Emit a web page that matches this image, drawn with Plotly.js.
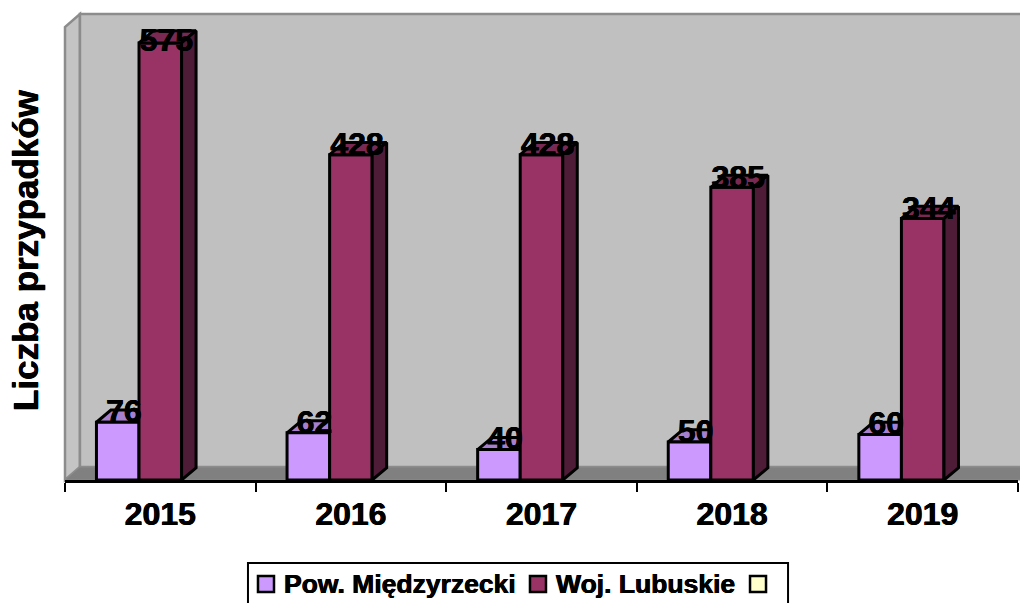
<!DOCTYPE html>
<html><head><meta charset="utf-8">
<script src="https://cdn.plot.ly/plotly-3.0.1.min.js"></script>
<style>html,body{margin:0;padding:0;background:#fff;overflow:hidden}</style>
</head><body><div id="chart" style="width:1020px;height:603px"></div>
<script>
const years = ['2015','2016','2017','2018','2019'];
const powValues = [76,62,40,50,60];
const wojValues = [575,428,428,385,344];
const seriesNames = ['Pow. Międzyrzecki','Woj. Lubuskie',''];
const seriesColors = ['#cc99ff','#993366','#ffffcc'];
const labelLift = [11,11,11,11,11];
const wojLabelLift = [0,10,10,10,10];
const yTitle = 'Liczba przypadków';

const FONT='"Liberation Sans", Arial, sans-serif';
const HEAVY='0.4px 0 0 #000, -0.4px 0 0 #000';
const positions = years.map((_,i)=>i+0.5);
const GAP=0.33, BW=(1-GAP)/3;
const DX=0.076, DY=16;
const YMAX=613;
const edge = (i,s)=>positions[i]-1.5*BW+s*BW;

function poly(xs,ys,fill,xa,ya){
  return {type:'scatter',mode:'lines',x:xs,y:ys,fill:'toself',fillcolor:fill,
    line:{color:'#000',width:3},showlegend:false,hoverinfo:'skip',xaxis:xa,yaxis:ya,cliponaxis:false};
}
const traces=[];
powValues.forEach((v,i)=>{
  const a=edge(i,0),b=edge(i,1);
  traces.push(poly([a,a+DX,b+DX,b,a],[v,v+DY,v+DY,v,v],'#a67fcf','x','y'));
});
[powValues,wojValues,years.map(()=>null)].forEach((vals,k)=>{
  traces.push({type:'bar',x:positions,y:vals,name:seriesNames[k],xaxis:'x2',yaxis:'y2',showlegend:false,
    marker:{color:seriesColors[k],line:{color:'#000',width:3}},hoverinfo:'skip'});
});
wojValues.forEach((v,i)=>{
  const a=edge(i,1),b=edge(i,2);
  traces.push(poly([a,a+DX,b+DX,b,a],[v,v+DY,v+DY,v,v],'#7a2952','x2','y2'));
  traces.push(poly([b,b+DX,b+DX,b,b],[v,v+DY,DY,0,v],'#4f1c38','x2','y2'));
});
const lab=(vals,lift,s)=>({type:'scatter',mode:'text',xaxis:'x2',yaxis:'y2',showlegend:false,hoverinfo:'skip',cliponaxis:false,
  x:vals.map((_,i)=>edge(i,s)+BW/2+0.032),y:vals.map((v,i)=>v+lift[i]),text:vals.map(String),textposition:'middle center',
  textfont:{family:FONT,size:32,color:'#000',weight:700,shadow:HEAVY}});
traces.push(lab(powValues,labelLift,0),lab(wojValues,wojLabelLift,1));

const W=1020,H=603,L=65,R=2,T=14,B=123;
const px=v=>((v-L)/(W-L-R)).toFixed(4), py=v=>((H-B-v)/(H-T-B)).toFixed(4);
const path=pts=>'M'+pts.map(p=>px(p[0])+' '+py(p[1])).join('L')+'Z';
function paperPoly(pts,fill,line,lw){return {type:'path',xref:'paper',yref:'paper',layer:'below',path:path(pts),fillcolor:fill,line:{color:line,width:lw}};}
const shapes=[
  paperPoly([[65,480],[65,27],[80,14],[80,467]],'#c4c4c4','#8c8c8c',2.5),
  paperPoly([[80,14],[1022,14],[1022,467],[80,467]],'#c0c0c0','#8c8c8c',2.5),
  paperPoly([[65,480],[80,467],[1022,467],[1022,480]],'#808080','#8c8c8c',1),
  {type:'path',xref:'paper',yref:'paper',layer:'above',path:'M'+px(248)+' '+py(612)+'L'+px(248)+' '+py(563)+'L'+px(788)+' '+py(563)+'L'+px(788)+' '+py(612),line:{color:'#000',width:2}}
];
const swatchX=[257,529,749], textX=[284,556];
seriesColors.forEach((c,k)=>{
  shapes.push({type:'rect',xref:'paper',yref:'paper',layer:'above',x0:px(swatchX[k]+1),x1:px(swatchX[k]+17),y0:py(592),y1:py(576),fillcolor:c,line:{color:'#000',width:2.5}});
});
const annotations=seriesNames.slice(0,2).map((n,k)=>({xref:'paper',yref:'paper',x:+px(textX[k]),y:+py(584),xanchor:'left',yanchor:'middle',showarrow:false,
  text:'<b>'+n+'</b>',font:{family:FONT,size:26.5,color:'#000',shadow:HEAVY},borderpad:0,borderwidth:0}));
annotations.push({xref:'paper',yref:'paper',x:+px(26),y:+py(250),xanchor:'center',yanchor:'middle',showarrow:false,textangle:-90,
  text:'<b>'+yTitle+'</b>',font:{family:FONT,size:35,color:'#000',shadow:HEAVY}});
const layout={
  width:W,height:H,margin:{l:L,r:R,t:T,b:B,pad:0},paper_bgcolor:'#fff',plot_bgcolor:'rgba(0,0,0,0)',showlegend:false,
  font:{family:FONT,color:'#000'},barmode:'group',bargap:GAP,bargroupgap:0,shapes,annotations,
  xaxis:{range:[0,5],tickmode:'array',tickvals:[0,1,2,3,4,5],ticktext:['','','','','',''],ticks:'outside',ticklen:9,tickwidth:2,tickcolor:'#000',
    showgrid:false,zeroline:false,showline:true,linecolor:'#000',linewidth:3,anchor:'y',fixedrange:true},
  yaxis:{range:[0,YMAX],showticklabels:false,ticks:'',showgrid:false,zeroline:false,showline:false,fixedrange:true},
  xaxis2:{range:[0,5],overlaying:'x',anchor:'y2',tickmode:'array',tickvals:positions,ticktext:years.map(y=>'<b>'+y+'</b>'),
    ticks:'outside',ticklen:6,tickcolor:'rgba(0,0,0,0)',tickfont:{family:FONT,size:32,color:'#000',shadow:HEAVY},showgrid:false,zeroline:false,showline:false,fixedrange:true},
  yaxis2:{range:[0,YMAX],overlaying:'y',showticklabels:false,ticks:'',showgrid:false,zeroline:false,showline:false,fixedrange:true}
};
Plotly.newPlot('chart',traces,layout,{displayModeBar:false,staticPlot:true});
</script></body></html>
